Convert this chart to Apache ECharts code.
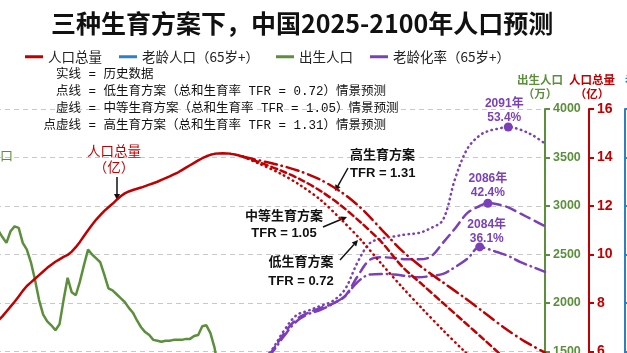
<!DOCTYPE html>
<html>
<head>
<meta charset="utf-8">
<title>三种生育方案下，中国2025-2100年人口预测</title>
<script src="https://cdn.jsdelivr.net/npm/echarts@6/dist/echarts.min.js"></script>
<style>
  html, body { margin: 0; padding: 0; background: #fff; }
  #chart { width: 627px; height: 353px; }
</style>
</head>
<body>
<div id="chart"></div>
<script>
// ---- data ----
const yearsFrom = (a, b) => { const out = []; for (let y = a; y <= b; y++) out.push(y); return out; };

// 人口总量（亿），历史
const popHistYears = yearsFrom(1966, 2026);
const popHist = [7.28, 7.45, 7.65, 7.85, 8.05, 8.27, 8.50, 8.70, 8.85, 9.00,
  9.15, 9.30, 9.45, 9.58, 9.70, 9.80, 9.90, 9.98, 10.12, 10.30,
  10.52, 10.76, 11.00, 11.23, 11.44, 11.62, 11.80, 11.95, 12.09, 12.25,
  12.40, 12.52, 12.60, 12.66, 12.71, 12.76, 12.82, 12.88, 12.94, 13.00,
  13.08, 13.15, 13.22, 13.30, 13.38, 13.48, 13.58, 13.68, 13.78, 13.88,
  13.97, 14.05, 14.11, 14.15, 14.17, 14.18, 14.17, 14.15, 14.12, 14.08, 14.03];

// 人口总量（亿），三种方案
const popProjYears = [2026, 2030, 2035, 2040, 2045, 2050, 2055, 2060, 2065, 2070, 2075, 2080, 2085, 2090, 2095, 2100];
const popLow  = [14.03, 13.74, 13.35, 12.86, 12.25, 11.45, 10.58, 9.60, 8.65, 7.75, 6.88, 6.05, 5.30, 4.62, 4.02, 3.50];
const popMid  = [14.03, 13.80, 13.48, 13.10, 12.62, 12.02, 11.30, 10.50, 9.50, 8.75, 8.00, 7.25, 6.50, 5.75, 5.10, 4.50];
const popHigh = [14.03, 13.88, 13.68, 13.43, 13.08, 12.58, 11.90, 11.02, 10.15, 9.45, 8.85, 8.25, 7.62, 6.98, 6.42, 5.95];

// 出生人口（万），历史
const birthYears = yearsFrom(1966, 2024);
const births = [2750, 2680, 2620, 2740, 2790, 2775, 2620, 2550, 2420, 2240,
  2030, 1880, 1810, 1770, 1720, 1780, 2030, 2260, 2110, 2080,
  2220, 2390, 2550, 2500, 2460, 2420, 2290, 2150, 2130, 2090,
  2050, 2010, 1950, 1900, 1820, 1750, 1700, 1670, 1620, 1610,
  1600, 1610, 1610, 1620, 1620, 1620, 1630, 1630, 1660, 1670,
  1760, 1770, 1690, 1540, 1310, 1060, 960, 900, 950];

// 老龄人口（亿）与老龄化率（%），历史
const elderYears = [2000, 2005, 2010, 2015, 2020, 2024];
const elderHist = [0.88, 1.00, 1.19, 1.44, 1.91, 2.20];
const agingHist = [7.0, 7.7, 8.9, 10.5, 13.5, 15.6];

// 老龄化率（%），三种方案
const agingYears = [2024, 2027, 2030, 2033, 2036, 2039, 2042, 2045, 2048, 2051, 2054, 2057, 2060, 2063,
  2066, 2069, 2072, 2075, 2078, 2081, 2084, 2086, 2088, 2091, 2094, 2097, 2100];
const agingLow  = [15.6, 17.4, 19.3, 21.2, 24.0, 26.2, 26.9, 27.6, 28.3, 30.0, 33.8, 36.6, 37.3, 37.6,
  37.9, 38.1, 38.8, 40.0, 46.0, 50.3, 52.2, 52.8, 53.1, 53.4, 53.0, 52.2, 51.0];
const agingMid  = [15.6, 17.4, 19.2, 21.0, 23.6, 25.6, 26.6, 27.3, 27.9, 29.0, 31.8, 34.2, 34.6, 34.5,
  34.3, 34.3, 34.7, 36.7, 38.8, 41.0, 42.0, 42.4, 42.3, 41.8, 40.9, 40.0, 39.1];
const agingHigh = [15.6, 17.3, 19.1, 20.8, 23.2, 25.3, 26.4, 27.0, 27.9, 29.0, 31.0, 32.1, 32.2, 32.1,
  31.9, 31.7, 31.9, 32.2, 33.2, 34.4, 36.1, 35.8, 35.4, 34.8, 33.9, 33.2, 32.5];

const birthTicks = [0, 4000, 500];
const popTicks = [0, 16, 2];

// ---- style ----
const RED = '#c00000';
const BLUE = '#2e7fc4';
const GREEN = '#5b8f3b';
const PURPLE = '#7b3fb8';
const FONT_CJK = '"Noto Sans CJK SC", "Liberation Sans", sans-serif';
const FONT_NUM = '"Liberation Sans", "Noto Sans CJK SC", sans-serif';
const FONT_NOTE = '"Liberation Mono", "Noto Sans CJK SC", monospace';

const DOTTED = [0.5, 4.5];
const DASHED = [6, 4];
const DASH_DOT = [12, 5, 0.5, 5];
const PURPLE_DASHED = [10, 6];

const pairs = (xs, ys) => xs.map((x, i) => [x, ys[i]]);
const peakOf = (xs, ys) => {
  let k = 0;
  ys.forEach((v, i) => { if (v > ys[k]) k = i; });
  return [xs[k], ys[k]];
};

function popLine(data, type) {
  return {
    name: '人口总量', type: 'line', yAxisIndex: 1, data: data,
    showSymbol: false, smooth: 0.3, z: 4,
    itemStyle: { color: RED },
    lineStyle: { color: RED, width: 2.5, type: type, cap: 'round' }
  };
}

function agingLine(ys, type, labelOffset) {
  const peak = peakOf(agingYears, ys);
  return {
    name: '老龄化率（65岁+）', type: 'line', yAxisIndex: 3, data: pairs(agingYears, ys),
    showSymbol: false, smooth: 0.35, z: 3,
    itemStyle: { color: PURPLE },
    lineStyle: { color: PURPLE, width: 2.5, type: type, cap: 'round' },
    markPoint: {
      symbol: 'circle', symbolSize: 9,
      itemStyle: { color: PURPLE },
      label: {
        show: true, position: 'top', distance: 2, offset: labelOffset,
        formatter: '{b}', color: PURPLE, fontSize: 12, fontWeight: 'bold',
        lineHeight: 14, fontFamily: FONT_NUM
      },
      data: [{ coord: peak, name: peak[0] + '年\n' + peak[1].toFixed(1) + '%' }]
    }
  };
}

function arrow(x1, y1, x2, y2) {
  const a = Math.atan2(y2 - y1, x2 - x1);
  const h = 6, w = 3;
  const bx = x2 - h * Math.cos(a), by = y2 - h * Math.sin(a);
  return [
    { type: 'line', shape: { x1: x1, y1: y1, x2: bx, y2: by }, style: { stroke: '#111', lineWidth: 1.5 } },
    { type: 'polygon', shape: { points: [[x2, y2],
        [bx + w * Math.sin(a), by - w * Math.cos(a)],
        [bx - w * Math.sin(a), by + w * Math.cos(a)]] }, style: { fill: '#111' } }
  ];
}

function txt(x, y, text, opts) {
  return {
    type: 'text', x: x, y: y, z: 10,
    style: Object.assign({ text: text, fill: '#222', align: 'left', verticalAlign: 'middle' }, opts)
  };
}

const notes = [
  ['实线 = 历史数据', 56, 75],
  ['点线 = 低生育方案（总和生育率 TFR = 0.72）情景预测', 56, 92],
  ['虚线 = 中等生育方案（总和生育率 TFR = 1.05）情景预测', 56, 109],
  ['点虚线 = 高生育方案（总和生育率 TFR = 1.31）情景预测', 43.5, 126]
];

const yAxisBase = (color, offset, ticks, name, labelSize, namePad) => ({
  type: 'value', position: 'right', offset: offset,
  min: ticks[0], max: ticks[1], interval: ticks[2],
  name: name, nameLocation: 'end', nameGap: 8, nameMoveOverlap: false,
  nameTextStyle: { color: color, fontSize: 11.5, fontWeight: 'bold', lineHeight: 14,
    fontFamily: FONT_CJK, padding: namePad },
  axisLine: { show: true, lineStyle: { color: color, width: 2 } },
  axisTick: { show: true, inside: false, length: 5, lineStyle: { color: color, width: 2 } },
  axisLabel: { color: color, fontSize: labelSize, fontWeight: 'bold', fontFamily: FONT_NUM, margin: 8,
    formatter: v => String(v) },
  splitLine: { show: false }
});

const chart = echarts.init(document.getElementById('chart'));

const greenAxis = yAxisBase(GREEN, 0, birthTicks, '出生人口\n（万）', 12.5, [0, 10, 0, 0]);
greenAxis.splitLine = { show: true, lineStyle: { color: '#c8c8c8', type: [5, 4], width: 1 } };
const blueAxis = yAxisBase(BLUE, 80, popTicks, '老龄人口\n（亿）', 14, [0, 0, 0, 0]);
blueAxis.nameTextStyle.align = 'left';

chart.setOption({
  animation: false,
  backgroundColor: '#fff',
  textStyle: { fontFamily: FONT_CJK },
  title: {
    text: '三种生育方案下，中国2025-2100年人口预测',
    left: 46, top: 6,
    textStyle: { fontSize: 25, fontWeight: 'bold', color: '#111', fontFamily: FONT_CJK }
  },
  legend: {
    left: 20, top: 45, icon: 'rect', itemWidth: 18, itemHeight: 3, itemGap: 17,
    selectedMode: false,
    textStyle: { fontSize: 13.5, color: '#222', fontFamily: FONT_CJK },
    data: ['人口总量', '老龄人口（65岁+）', '出生人口', '老龄化率（65岁+）']
  },
  grid: { left: -67, right: 82, top: 109, bottom: -144, containLabel: false, outerBoundsMode: 'none' },
  xAxis: { type: 'value', min: 1950, max: 2100, show: false },
  yAxis: [
    greenAxis,
    yAxisBase(RED, 44, popTicks, '人口总量\n（亿）', 14, [0, 0, 0, 6]),
    blueAxis,
    { type: 'value', show: false, min: 0, max: 56 }
  ],
  series: [
    {
      name: '出生人口', type: 'line', yAxisIndex: 0, data: pairs(birthYears, births),
      showSymbol: false, z: 2,
      itemStyle: { color: GREEN }, lineStyle: { color: GREEN, width: 2.5 }
    },
    {
      name: '老龄人口（65岁+）', type: 'line', yAxisIndex: 2, data: pairs(elderYears, elderHist),
      showSymbol: false, itemStyle: { color: BLUE }, lineStyle: { color: BLUE, width: 2.5 }
    },
    {
      name: '人口总量', type: 'line', yAxisIndex: 1, data: pairs(popHistYears, popHist),
      showSymbol: false, z: 4, itemStyle: { color: RED }, lineStyle: { color: RED, width: 2.5 }
    },
    popLine(pairs(popProjYears, popLow), DOTTED),
    popLine(pairs(popProjYears, popMid), DASHED),
    popLine(pairs(popProjYears, popHigh), DASH_DOT),
    {
      name: '老龄化率（65岁+）', type: 'line', yAxisIndex: 3, data: pairs(elderYears, agingHist),
      showSymbol: false, itemStyle: { color: PURPLE }, lineStyle: { color: PURPLE, width: 2.5 }
    },
    agingLine(agingLow, DOTTED, [-4, 4]),
    agingLine(agingMid, PURPLE_DASHED, [0, 3]),
    agingLine(agingHigh, DASH_DOT, [7, 5])
  ],
  graphic: [].concat(
    notes.map(n => txt(n[1], n[2], n[0], { font: '12.5px ' + FONT_NOTE, fill: '#111' })),
    [
      txt(-13, 163, '出生人口\n（万）', { font: '13px ' + FONT_CJK, fill: GREEN, align: 'center', lineHeight: 16 }),
      txt(114, 159, '人口总量\n（亿）', { font: '13.5px ' + FONT_CJK, fill: RED, align: 'center', lineHeight: 16 }),
      txt(350, 164, '高生育方案\nTFR = 1.31', { font: 'bold 13px ' + FONT_NUM, fill: '#111', align: 'left', lineHeight: 18 }),
      txt(284, 225, '中等生育方案\nTFR = 1.05', { font: 'bold 13px ' + FONT_NUM, fill: '#111', align: 'center', lineHeight: 17 }),
      txt(301, 272, '低生育方案\nTFR = 0.72', { font: 'bold 13px ' + FONT_NUM, fill: '#111', align: 'center', lineHeight: 19 })
    ],
    arrow(117, 177, 117, 200),
    arrow(348, 168, 335, 191),
    arrow(323, 227, 347, 217),
    arrow(340, 260, 358, 240)
  )
});
</script>
</body>
</html>
